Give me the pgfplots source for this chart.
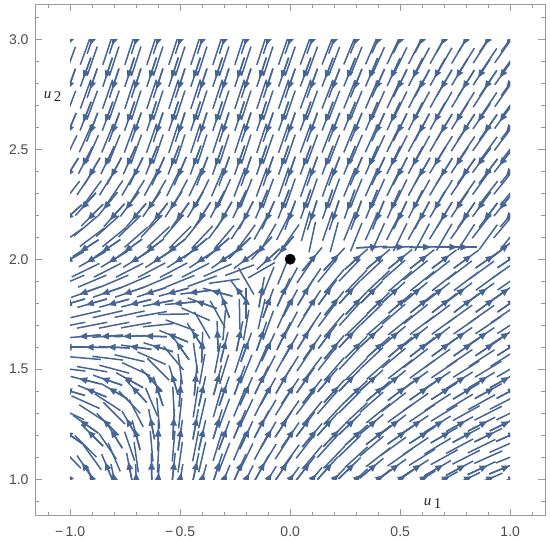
\documentclass[border=0pt]{standalone}
\usepackage{fontspec}
\setmainfont{Liberation Sans}
\newfontfamily\serifu{Liberation Serif}
\usepackage{pgfplots}
\usepackage{pgfplotstable}
\pgfplotsset{compat=1.18}
\usetikzlibrary{arrows.meta}
\definecolor{stream}{RGB}{71,101,148}
\definecolor{framegray}{gray}{0.6}
\definecolor{labgray}{gray}{0.3}

% direction field: x, y, angle of the flow (degrees)
\pgfplotstableread[row sep=\\]{
x y a\\
-1 3 250\\ -0.9 3 251\\ -0.8 3 252\\ -0.7 3 252\\ -0.6 3 252\\ -0.5 3 252\\ -0.4 3 252\\ -0.3 3 252\\ -0.2 3 252\\ -0.1 3 252\\ 0 3 251\\ 0.1 3 250\\ 0.2 3 249\\ 0.3 3 248\\ 0.4 3 246\\ 0.5 3 244\\ 0.6 3 242\\ 0.7 3 240\\ 0.8 3 238\\ 0.9 3 236\\ 1 3 234\\
-1 2.9 250\\ -0.9 2.9 251\\ -0.8 2.9 252\\ -0.7 2.9 252\\ -0.6 2.9 252\\ -0.5 2.9 252\\ -0.4 2.9 252\\ -0.3 2.9 252\\ -0.2 2.9 252\\ -0.1 2.9 252\\ 0 2.9 251\\ 0.1 2.9 250\\ 0.2 2.9 249\\ 0.3 2.9 248\\ 0.4 2.9 246\\ 0.5 2.9 244\\ 0.6 2.9 242\\ 0.7 2.9 240\\ 0.8 2.9 238\\ 0.9 2.9 236\\ 1 2.9 234\\
-1 2.8 250\\ -0.9 2.8 251\\ -0.8 2.8 252\\ -0.7 2.8 252\\ -0.6 2.8 252\\ -0.5 2.8 252\\ -0.4 2.8 252\\ -0.3 2.8 252\\ -0.2 2.8 252\\ -0.1 2.8 252\\ 0 2.8 251\\ 0.1 2.8 250\\ 0.2 2.8 249\\ 0.3 2.8 248\\ 0.4 2.8 246\\ 0.5 2.8 244\\ 0.6 2.8 242\\ 0.7 2.8 240\\ 0.8 2.8 238\\ 0.9 2.8 236\\ 1 2.8 234\\
-1 2.7 249\\ -0.9 2.7 250\\ -0.8 2.7 251\\ -0.7 2.7 252\\ -0.6 2.7 252\\ -0.5 2.7 252\\ -0.4 2.7 252\\ -0.3 2.7 252\\ -0.2 2.7 252\\ -0.1 2.7 252\\ 0 2.7 251\\ 0.1 2.7 250\\ 0.2 2.7 249\\ 0.3 2.7 248\\ 0.4 2.7 246\\ 0.5 2.7 244\\ 0.6 2.7 242\\ 0.7 2.7 240\\ 0.8 2.7 238\\ 0.9 2.7 236\\ 1 2.7 234\\
-1 2.6 247\\ -0.9 2.6 249\\ -0.8 2.6 250\\ -0.7 2.6 251\\ -0.6 2.6 252\\ -0.5 2.6 252\\ -0.4 2.6 252\\ -0.3 2.6 252\\ -0.2 2.6 252\\ -0.1 2.6 251\\ 0 2.6 251\\ 0.1 2.6 250\\ 0.2 2.6 249\\ 0.3 2.6 248\\ 0.4 2.6 246\\ 0.5 2.6 244\\ 0.6 2.6 242\\ 0.7 2.6 239\\ 0.8 2.6 237\\ 0.9 2.6 235\\ 1 2.6 233\\
-1 2.5 244\\ -0.9 2.5 246\\ -0.8 2.5 248\\ -0.7 2.5 250\\ -0.6 2.5 251\\ -0.5 2.5 252\\ -0.4 2.5 252\\ -0.3 2.5 252\\ -0.2 2.5 252\\ -0.1 2.5 251\\ 0 2.5 251\\ 0.1 2.5 250\\ 0.2 2.5 249\\ 0.3 2.5 247\\ 0.4 2.5 245\\ 0.5 2.5 243\\ 0.6 2.5 241\\ 0.7 2.5 238\\ 0.8 2.5 236\\ 0.9 2.5 234\\ 1 2.5 232\\
-1 2.4 238\\ -0.9 2.4 240\\ -0.8 2.4 242\\ -0.7 2.4 244\\ -0.6 2.4 246\\ -0.5 2.4 247\\ -0.4 2.4 249\\ -0.3 2.4 250\\ -0.2 2.4 251\\ -0.1 2.4 251\\ 0 2.4 251\\ 0.1 2.4 250\\ 0.2 2.4 249\\ 0.3 2.4 247\\ 0.4 2.4 245\\ 0.5 2.4 243\\ 0.6 2.4 240\\ 0.7 2.4 238\\ 0.8 2.4 235\\ 0.9 2.4 233\\ 1 2.4 231\\
-1 2.3 232\\ -0.9 2.3 234\\ -0.8 2.3 236\\ -0.7 2.3 238\\ -0.6 2.3 240\\ -0.5 2.3 242\\ -0.4 2.3 244\\ -0.3 2.3 246\\ -0.2 2.3 248\\ -0.1 2.3 250\\ 0 2.3 251\\ 0.1 2.3 251\\ 0.2 2.3 250\\ 0.3 2.3 248\\ 0.4 2.3 246\\ 0.5 2.3 244\\ 0.6 2.3 241\\ 0.7 2.3 238\\ 0.8 2.3 235\\ 0.9 2.3 232\\ 1 2.3 230\\
-1 2.2 222\\ -0.9 2.2 225\\ -0.8 2.2 228\\ -0.7 2.2 230\\ -0.6 2.2 232\\ -0.5 2.2 235\\ -0.4 2.2 237\\ -0.3 2.2 240\\ -0.2 2.2 243\\ -0.1 2.2 246\\ 0 2.2 250\\ 0.1 2.2 252\\ 0.2 2.2 252\\ 0.3 2.2 250\\ 0.4 2.2 248\\ 0.5 2.2 245\\ 0.6 2.2 242\\ 0.7 2.2 239\\ 0.8 2.2 236\\ 0.9 2.2 233\\ 1 2.2 230\\
-1 2.1 215\\ -0.9 2.1 217\\ -0.8 2.1 219\\ -0.7 2.1 221\\ -0.6 2.1 223\\ -0.5 2.1 225\\ -0.4 2.1 227\\ -0.3 2.1 230\\ -0.2 2.1 234\\ -0.1 2.1 240\\ 0 2.1 235\\ 0.1 2.1 258\\ 0.2 2.1 255\\ 0.3 2.1 248\\ 0.4 2.1 246\\ 0.5 2.1 244\\ 0.6 2.1 242\\ 0.7 2.1 240\\ 0.8 2.1 237\\ 0.9 2.1 234\\ 1 2.1 231\\
-1 2 209\\ -0.9 2 210\\ -0.8 2 211\\ -0.7 2 212\\ -0.6 2 213\\ -0.5 2 213\\ -0.4 2 214\\ -0.3 2 215\\ -0.2 2 217\\ -0.1 2 222\\ 0.1 2 50\\ 0.2 2 47\\ 0.3 2 42\\ 0.4 2 40\\ 0.5 2 39\\ 0.6 2 38\\ 0.7 2 37\\ 0.8 2 36\\ 0.9 2 35\\ 1 2 34\\
-1 1.9 203\\ -0.9 1.9 203\\ -0.8 1.9 203\\ -0.7 1.9 203\\ -0.6 1.9 203\\ -0.5 1.9 202\\ -0.4 1.9 200\\ -0.3 1.9 188\\ -0.2 1.9 120\\ -0.1 1.9 68\\ 0 1.9 62\\ 0.1 1.9 56\\ 0.2 1.9 50\\ 0.3 1.9 46\\ 0.4 1.9 43\\ 0.5 1.9 41\\ 0.6 1.9 39\\ 0.7 1.9 38\\ 0.8 1.9 37\\ 0.9 1.9 36\\ 1 1.9 35\\
-1 1.8 196\\ -0.9 1.8 196\\ -0.8 1.8 195\\ -0.7 1.8 194\\ -0.6 1.8 191\\ -0.5 1.8 185\\ -0.4 1.8 160\\ -0.3 1.8 110\\ -0.2 1.8 90\\ -0.1 1.8 70\\ 0 1.8 62\\ 0.1 1.8 57\\ 0.2 1.8 51\\ 0.3 1.8 47\\ 0.4 1.8 44\\ 0.5 1.8 41\\ 0.6 1.8 39\\ 0.7 1.8 38\\ 0.8 1.8 37\\ 0.9 1.8 36\\ 1 1.8 35\\
-1 1.7 191\\ -0.9 1.7 191\\ -0.8 1.7 191\\ -0.7 1.7 190\\ -0.6 1.7 186\\ -0.5 1.7 160\\ -0.4 1.7 120\\ -0.3 1.7 85\\ -0.2 1.7 80\\ -0.1 1.7 70\\ 0 1.7 62\\ 0.1 1.7 56\\ 0.2 1.7 50\\ 0.3 1.7 44\\ 0.4 1.7 41\\ 0.5 1.7 39\\ 0.6 1.7 37\\ 0.7 1.7 36\\ 0.8 1.7 35\\ 0.9 1.7 34\\ 1 1.7 33\\
-1 1.6 180\\ -0.9 1.6 179\\ -0.8 1.6 177\\ -0.7 1.6 172\\ -0.6 1.6 163\\ -0.5 1.6 125\\ -0.4 1.6 88\\ -0.3 1.6 76\\ -0.2 1.6 70\\ -0.1 1.6 65\\ 0 1.6 60\\ 0.1 1.6 55\\ 0.2 1.6 50\\ 0.3 1.6 45\\ 0.4 1.6 42\\ 0.5 1.6 40\\ 0.6 1.6 38\\ 0.7 1.6 36\\ 0.8 1.6 35\\ 0.9 1.6 34\\ 1 1.6 33\\
-1 1.5 173\\ -0.9 1.5 170\\ -0.8 1.5 165\\ -0.7 1.5 155\\ -0.6 1.5 135\\ -0.5 1.5 98\\ -0.4 1.5 80\\ -0.3 1.5 73\\ -0.2 1.5 68\\ -0.1 1.5 63\\ 0 1.5 58\\ 0.1 1.5 53\\ 0.2 1.5 49\\ 0.3 1.5 45\\ 0.4 1.5 41\\ 0.5 1.5 38\\ 0.6 1.5 36\\ 0.7 1.5 34\\ 0.8 1.5 32\\ 0.9 1.5 31\\ 1 1.5 30\\
-1 1.4 164\\ -0.9 1.4 158\\ -0.8 1.4 150\\ -0.7 1.4 133\\ -0.6 1.4 108\\ -0.5 1.4 86\\ -0.4 1.4 77\\ -0.3 1.4 71\\ -0.2 1.4 66\\ -0.1 1.4 61\\ 0 1.4 56\\ 0.1 1.4 52\\ 0.2 1.4 48\\ 0.3 1.4 44\\ 0.4 1.4 40\\ 0.5 1.4 37\\ 0.6 1.4 35\\ 0.7 1.4 33\\ 0.8 1.4 31\\ 0.9 1.4 29\\ 1 1.4 28\\
-1 1.3 155\\ -0.9 1.3 147\\ -0.8 1.3 135\\ -0.7 1.3 117\\ -0.6 1.3 95\\ -0.5 1.3 84\\ -0.4 1.3 77\\ -0.3 1.3 70\\ -0.2 1.3 65\\ -0.1 1.3 60\\ 0 1.3 55\\ 0.1 1.3 51\\ 0.2 1.3 47\\ 0.3 1.3 43\\ 0.4 1.3 39\\ 0.5 1.3 36\\ 0.6 1.3 34\\ 0.7 1.3 31\\ 0.8 1.3 29\\ 0.9 1.3 27\\ 1 1.3 26\\
-1 1.2 145\\ -0.9 1.2 135\\ -0.8 1.2 122\\ -0.7 1.2 105\\ -0.6 1.2 89\\ -0.5 1.2 82\\ -0.4 1.2 77\\ -0.3 1.2 70\\ -0.2 1.2 65\\ -0.1 1.2 60\\ 0 1.2 55\\ 0.1 1.2 50\\ 0.2 1.2 46\\ 0.3 1.2 42\\ 0.4 1.2 38\\ 0.5 1.2 35\\ 0.6 1.2 33\\ 0.7 1.2 30\\ 0.8 1.2 28\\ 0.9 1.2 26\\ 1 1.2 24\\
-1 1.1 134\\ -0.9 1.1 126\\ -0.8 1.1 113\\ -0.7 1.1 98\\ -0.6 1.1 87\\ -0.5 1.1 82\\ -0.4 1.1 77\\ -0.3 1.1 69\\ -0.2 1.1 64\\ -0.1 1.1 59\\ 0 1.1 54\\ 0.1 1.1 50\\ 0.2 1.1 46\\ 0.3 1.1 42\\ 0.4 1.1 38\\ 0.5 1.1 35\\ 0.6 1.1 32\\ 0.7 1.1 29\\ 0.8 1.1 27\\ 0.9 1.1 24\\ 1 1.1 22\\
-1 1 124\\ -0.9 1 113\\ -0.8 1 102\\ -0.7 1 92\\ -0.6 1 86\\ -0.5 1 80\\ -0.4 1 74\\ -0.3 1 68\\ -0.2 1 63\\ -0.1 1 58\\ 0 1 54\\ 0.1 1 50\\ 0.2 1 46\\ 0.3 1 42\\ 0.4 1 38\\ 0.5 1 35\\ 0.6 1 32\\ 0.7 1 29\\ 0.8 1 26\\ 0.9 1 23\\ 1 1 21\\
-0.93 2.95 250\\ -0.83 2.95 252\\ -0.73 2.95 252\\ -0.63 2.95 252\\ -0.53 2.95 252\\ -0.43 2.95 252\\ -0.33 2.95 252\\ -0.23 2.95 252\\ -0.13 2.95 252\\ -0.03 2.95 251\\ 0.07 2.95 250\\ 0.17 2.95 249\\ 0.27 2.95 248\\ 0.37 2.95 247\\ 0.47 2.95 245\\ 0.57 2.95 243\\ 0.67 2.95 241\\ 0.77 2.95 239\\ 0.87 2.95 237\\ 0.97 2.95 235\\
-0.93 2.85 250\\ -0.83 2.85 252\\ -0.73 2.85 252\\ -0.63 2.85 252\\ -0.53 2.85 252\\ -0.43 2.85 252\\ -0.33 2.85 252\\ -0.23 2.85 252\\ -0.13 2.85 252\\ -0.03 2.85 251\\ 0.07 2.85 250\\ 0.17 2.85 249\\ 0.27 2.85 248\\ 0.37 2.85 247\\ 0.47 2.85 245\\ 0.57 2.85 243\\ 0.67 2.85 241\\ 0.77 2.85 239\\ 0.87 2.85 237\\ 0.97 2.85 235\\
-0.93 2.75 250\\ -0.83 2.75 251\\ -0.73 2.75 252\\ -0.63 2.75 252\\ -0.53 2.75 252\\ -0.43 2.75 252\\ -0.33 2.75 252\\ -0.23 2.75 252\\ -0.13 2.75 252\\ -0.03 2.75 251\\ 0.07 2.75 250\\ 0.17 2.75 249\\ 0.27 2.75 248\\ 0.37 2.75 247\\ 0.47 2.75 245\\ 0.57 2.75 243\\ 0.67 2.75 241\\ 0.77 2.75 239\\ 0.87 2.75 237\\ 0.97 2.75 235\\
-0.93 2.65 249\\ -0.83 2.65 250\\ -0.73 2.65 251\\ -0.63 2.65 252\\ -0.53 2.65 252\\ -0.43 2.65 252\\ -0.33 2.65 252\\ -0.23 2.65 252\\ -0.13 2.65 252\\ -0.03 2.65 251\\ 0.07 2.65 250\\ 0.17 2.65 249\\ 0.27 2.65 248\\ 0.37 2.65 247\\ 0.47 2.65 245\\ 0.57 2.65 243\\ 0.67 2.65 241\\ 0.77 2.65 238\\ 0.87 2.65 236\\ 0.97 2.65 234\\
-0.93 2.55 246\\ -0.83 2.55 248\\ -0.73 2.55 250\\ -0.63 2.55 251\\ -0.53 2.55 252\\ -0.43 2.55 252\\ -0.33 2.55 252\\ -0.23 2.55 252\\ -0.13 2.55 252\\ -0.03 2.55 251\\ 0.07 2.55 250\\ 0.17 2.55 249\\ 0.27 2.55 248\\ 0.37 2.55 246\\ 0.47 2.55 244\\ 0.57 2.55 242\\ 0.67 2.55 240\\ 0.77 2.55 237\\ 0.87 2.55 235\\ 0.97 2.55 233\\
-0.93 2.45 242\\ -0.83 2.45 244\\ -0.73 2.45 246\\ -0.63 2.45 248\\ -0.53 2.45 249\\ -0.43 2.45 250\\ -0.33 2.45 251\\ -0.23 2.45 251\\ -0.13 2.45 251\\ -0.03 2.45 251\\ 0.07 2.45 250\\ 0.17 2.45 249\\ 0.27 2.45 248\\ 0.37 2.45 246\\ 0.47 2.45 244\\ 0.57 2.45 242\\ 0.67 2.45 239\\ 0.77 2.45 237\\ 0.87 2.45 234\\ 0.97 2.45 232\\
-0.93 2.35 236\\ -0.83 2.35 238\\ -0.73 2.35 240\\ -0.63 2.35 242\\ -0.53 2.35 244\\ -0.43 2.35 245\\ -0.33 2.35 247\\ -0.23 2.35 249\\ -0.13 2.35 250\\ -0.03 2.35 251\\ 0.07 2.35 251\\ 0.17 2.35 250\\ 0.27 2.35 248\\ 0.37 2.35 246\\ 0.47 2.35 244\\ 0.57 2.35 242\\ 0.67 2.35 239\\ 0.77 2.35 236\\ 0.87 2.35 234\\ 0.97 2.35 231\\
-0.93 2.25 228\\ -0.83 2.25 231\\ -0.73 2.25 233\\ -0.63 2.25 235\\ -0.53 2.25 237\\ -0.43 2.25 239\\ -0.33 2.25 242\\ -0.23 2.25 244\\ -0.13 2.25 247\\ -0.03 2.25 249\\ 0.07 2.25 251\\ 0.17 2.25 251\\ 0.27 2.25 250\\ 0.37 2.25 248\\ 0.47 2.25 246\\ 0.57 2.25 243\\ 0.67 2.25 240\\ 0.77 2.25 237\\ 0.87 2.25 234\\ 0.97 2.25 231\\
-0.93 2.15 220\\ -0.83 2.15 222\\ -0.73 2.15 224\\ -0.63 2.15 226\\ -0.53 2.15 229\\ -0.43 2.15 231\\ -0.33 2.15 234\\ -0.23 2.15 237\\ -0.13 2.15 241\\ -0.03 2.15 243\\ 0.07 2.15 254\\ 0.17 2.15 251\\ 0.27 2.15 248\\ 0.37 2.15 246\\ 0.47 2.15 243\\ 0.57 2.15 241\\ 0.67 2.15 238\\ 0.77 2.15 235\\ 0.87 2.15 232\\ 0.97 2.15 230\\
-0.93 2.05 213\\ -0.83 2.05 214\\ -0.73 2.05 216\\ -0.63 2.05 217\\ -0.53 2.05 218\\ -0.43 2.05 220\\ -0.33 2.05 221\\ -0.23 2.05 224\\ -0.13 2.05 228\\ -0.03 2.05 230\\ 0.37 2.055 3\\ 0.49 2.055 2\\ 0.61 2.055 1\\ 0.73 2.055 0\\ 0.78 2.055 0\\ 0.97 2.05 38\\
-0.93 1.95 206\\ -0.83 1.95 207\\ -0.73 1.95 207\\ -0.63 1.95 208\\ -0.53 1.95 208\\ -0.43 1.95 207\\ -0.33 1.95 204\\ -0.23 1.95 200\\ -0.13 1.95 210\\ -0.03 1.95 68\\ 0.07 1.95 56\\ 0.17 1.95 51\\ 0.27 1.95 46\\ 0.37 1.95 43\\ 0.47 1.95 41\\ 0.57 1.95 39\\ 0.67 1.95 38\\ 0.77 1.95 37\\ 0.87 1.95 36\\ 0.97 1.95 35\\
-0.93 1.85 200\\ -0.83 1.85 199\\ -0.73 1.85 199\\ -0.63 1.85 198\\ -0.53 1.85 195\\ -0.43 1.85 187\\ -0.33 1.85 165\\ -0.23 1.85 127\\ -0.13 1.85 80\\ -0.03 1.85 66\\ 0.07 1.85 59\\ 0.17 1.85 54\\ 0.27 1.85 48\\ 0.37 1.85 45\\ 0.47 1.85 42\\ 0.57 1.85 40\\ 0.67 1.85 38\\ 0.77 1.85 37\\ 0.87 1.85 36\\ 0.97 1.85 35\\
-0.93 1.75 193\\ -0.83 1.75 193\\ -0.73 1.75 192\\ -0.63 1.75 190\\ -0.53 1.75 181\\ -0.43 1.75 156\\ -0.33 1.75 119\\ -0.23 1.75 91\\ -0.13 1.75 77\\ -0.03 1.75 66\\ 0.07 1.75 59\\ 0.17 1.75 53\\ 0.27 1.75 48\\ 0.37 1.75 44\\ 0.47 1.75 41\\ 0.57 1.75 39\\ 0.67 1.75 37\\ 0.77 1.75 36\\ 0.87 1.75 35\\ 0.97 1.75 34\\
-0.93 1.65 185\\ -0.83 1.65 184\\ -0.73 1.65 182\\ -0.63 1.65 178\\ -0.53 1.65 158\\ -0.43 1.65 123\\ -0.33 1.65 92\\ -0.23 1.65 78\\ -0.13 1.65 71\\ -0.03 1.65 64\\ 0.07 1.65 58\\ 0.17 1.65 53\\ 0.27 1.65 47\\ 0.37 1.65 43\\ 0.47 1.65 40\\ 0.57 1.65 38\\ 0.67 1.65 37\\ 0.77 1.65 35\\ 0.87 1.65 34\\ 0.97 1.65 33\\
-0.93 1.55 175\\ -0.83 1.55 173\\ -0.73 1.55 167\\ -0.63 1.55 156\\ -0.53 1.55 130\\ -0.43 1.55 98\\ -0.33 1.55 79\\ -0.23 1.55 72\\ -0.13 1.55 66\\ -0.03 1.55 61\\ 0.07 1.55 56\\ 0.17 1.55 52\\ 0.27 1.55 47\\ 0.37 1.55 43\\ 0.47 1.55 40\\ 0.57 1.55 38\\ 0.67 1.55 36\\ 0.77 1.55 34\\ 0.87 1.55 33\\ 0.97 1.55 32\\
-0.93 1.45 166\\ -0.83 1.45 161\\ -0.73 1.45 151\\ -0.63 1.45 133\\ -0.53 1.45 107\\ -0.43 1.45 85\\ -0.33 1.45 75\\ -0.23 1.45 70\\ -0.13 1.45 64\\ -0.03 1.45 60\\ 0.07 1.45 55\\ 0.17 1.45 50\\ 0.27 1.45 46\\ 0.37 1.45 42\\ 0.47 1.45 39\\ 0.57 1.45 36\\ 0.67 1.45 34\\ 0.77 1.45 32\\ 0.87 1.45 31\\ 0.97 1.45 29\\
-0.93 1.35 156\\ -0.83 1.35 147\\ -0.73 1.35 134\\ -0.63 1.35 113\\ -0.53 1.35 93\\ -0.43 1.35 81\\ -0.33 1.35 74\\ -0.23 1.35 68\\ -0.13 1.35 63\\ -0.03 1.35 58\\ 0.07 1.35 53\\ 0.17 1.35 49\\ 0.27 1.35 45\\ 0.37 1.35 41\\ 0.47 1.35 38\\ 0.57 1.35 35\\ 0.67 1.35 33\\ 0.77 1.35 31\\ 0.87 1.35 29\\ 0.97 1.35 27\\
-0.93 1.25 145\\ -0.83 1.25 135\\ -0.73 1.25 120\\ -0.63 1.25 101\\ -0.53 1.25 87\\ -0.43 1.25 80\\ -0.33 1.25 73\\ -0.23 1.25 67\\ -0.13 1.25 62\\ -0.03 1.25 57\\ 0.07 1.25 53\\ 0.17 1.25 48\\ 0.27 1.25 44\\ 0.37 1.25 40\\ 0.47 1.25 37\\ 0.57 1.25 34\\ 0.67 1.25 32\\ 0.77 1.25 29\\ 0.87 1.25 27\\ 0.97 1.25 26\\
-0.93 1.15 135\\ -0.83 1.15 124\\ -0.73 1.15 109\\ -0.63 1.15 95\\ -0.53 1.15 85\\ -0.43 1.15 79\\ -0.33 1.15 73\\ -0.23 1.15 67\\ -0.13 1.15 62\\ -0.03 1.15 57\\ 0.07 1.15 52\\ 0.17 1.15 48\\ 0.27 1.15 44\\ 0.37 1.15 40\\ 0.47 1.15 36\\ 0.57 1.15 34\\ 0.67 1.15 31\\ 0.77 1.15 28\\ 0.87 1.15 26\\ 0.97 1.15 24\\
-0.93 1.05 124\\ -0.83 1.05 113\\ -0.73 1.05 101\\ -0.63 1.05 91\\ -0.53 1.05 84\\ -0.43 1.05 78\\ -0.33 1.05 72\\ -0.23 1.05 66\\ -0.13 1.05 61\\ -0.03 1.05 56\\ 0.07 1.05 52\\ 0.17 1.05 48\\ 0.27 1.05 44\\ 0.37 1.05 40\\ 0.47 1.05 36\\ 0.57 1.05 33\\ 0.67 1.05 30\\ 0.77 1.05 28\\ 0.87 1.05 25\\ 0.97 1.05 22\\
}\field

\begin{document}
\begin{tikzpicture}
\path[use as bounding box] (-70.2bp,-61.8bp) rectangle (479.8bp,479.2bp);
% streamlines, clipped to the plotted region [-1,1]x[1,3]
\begin{axis}[at={(0,0)}, anchor=south west, scale only axis,
  width=440bp, height=440bp, xmin=-1, xmax=1, ymin=1, ymax=3,
  hide axis, clip=true]
\addplot[stream, line width=1.5bp, arrows=-,
  quiver={u={0.14*cos(\thisrow{a})}, v={0.14*sin(\thisrow{a})}}]
  table[x expr={\thisrow{x}-0.07*cos(\thisrow{a})}, y expr={\thisrow{y}-0.07*sin(\thisrow{a})}] {\field};
% arrowheads on every other row only
\addplot[stream, line width=1.5bp, -{Triangle[length=8bp,width=6.5bp]},
  restrict expr to domain={mod(round(\thisrow{y}*20),4)}{0:1},
  quiver={u={0.1*cos(\thisrow{a})}, v={0.1*sin(\thisrow{a})}}]
  table[x expr={\thisrow{x}-0.07*cos(\thisrow{a})}, y expr={\thisrow{y}-0.07*sin(\thisrow{a})}] {\field};
\end{axis}
% frame, ticks, labels, equilibrium point
\begin{axis}[at={(-35.2bp,-36.3bp)}, anchor=south west, scale only axis,
  width=510.4bp, height=511.5bp,
  xmin=-1.16, xmax=1.16, ymin=0.835, ymax=3.16,
  axis line style={framegray, line width=0.8bp},
  tick style={framegray, line width=0.8bp},
  major tick length=7bp, minor tick length=4bp,
  tick align=inside, tick pos=both,
  xticklabel pos=lower, yticklabel pos=left,
  xtick={-1,-0.5,0,0.5,1},
  xticklabels={−\,1.0,−\,0.5,0.0,0.5,1.0},
  ytick={1,1.5,2,2.5,3},
  yticklabels={1.0,1.5,2.0,2.5,3.0},
  minor xtick={-1.1,-0.9,-0.8,-0.7,-0.6,-0.4,-0.3,-0.2,-0.1,0.1,0.2,0.3,0.4,0.6,0.7,0.8,0.9,1.1},
  minor ytick={0.9,1.1,1.2,1.3,1.4,1.6,1.7,1.8,1.9,2.1,2.2,2.3,2.4,2.6,2.7,2.8,2.9,3.1},
  tick label style={font=\fontsize{14bp}{16bp}\selectfont, text=labgray},
  xticklabel style={yshift=-8bp},
  yticklabel style={xshift=-3bp},
  clip=false]
\addplot[only marks, mark=*, mark size=5.2bp, black] coordinates {(0,2)};
\node[anchor=base west, inner sep=0pt, font=\serifu\fontsize{15bp}{18bp}\selectfont, text=black!85]
  at (axis cs:0.607,0.882) {\itshape u\,\raisebox{-3bp}{\upshape 1}};
\node[anchor=base west, inner sep=0pt, font=\serifu\fontsize{15bp}{18bp}\selectfont, text=black!85]
  at (axis cs:-1.121,2.730) {\itshape u\,\raisebox{-3bp}{\upshape 2}};
\end{axis}
\end{tikzpicture}
\end{document}
